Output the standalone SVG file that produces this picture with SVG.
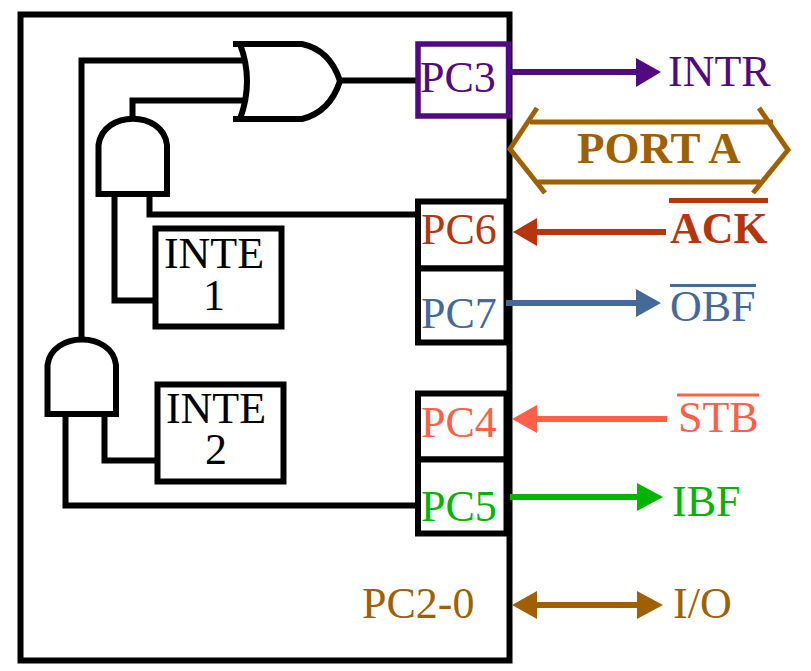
<svg xmlns="http://www.w3.org/2000/svg" width="811" height="671" viewBox="0 0 811 671">
<style>
text{font-family:"Liberation Serif","Times New Roman",serif;font-size:44px}
.b{font-weight:bold}
.k{fill:none;stroke:#000;stroke-width:6}
.g{fill:#fff;stroke:#000;stroke-width:6}
.w{fill:none;stroke:#000;stroke-width:6;stroke-linejoin:miter}
.pur{fill:#520a80}.red{fill:#b5360e}.blu{fill:#466a98}.sal{fill:#ff6047}.grn{fill:#00b400}.brn{fill:#a06000}.blk{fill:#000}
</style>
<rect x="0" y="0" width="811" height="671" fill="#fff"/>
<g id="chip"><rect class="k" x="20.500" y="14.500" width="489" height="646"/></g>
<g id="connectors">
<path class="w" d="M81.500 340V60.500H247"/>
<path class="w" d="M132.500 119V100.500H247"/>
<path class="w" d="M114.500 196V300.500H155"/>
<path class="w" d="M149.500 196V214.500H418"/>
<path class="w" d="M65.500 416V505.500H418"/>
<path class="w" d="M104.500 416V460.500H157"/>
<path class="w" d="M338 80.500H418"/>
</g>
<g id="or-gate"><path fill="#fff" d="M240 44H302Q330 50 340 81Q330 112 302 119H240Q254 81 240 44Z"/><path class="k" d="M233 44H302Q330 50 340 81Q330 112 302 119H233M240 44Q254 81 240 119"/></g>
<g id="and-gate-1"><path class="g" d="M98.500 194V145C103 110 163 110 167 145V194Z"/></g>
<g id="and-gate-2"><path class="g" d="M47.500 414V365C52 331 112 331 116 365V414Z"/></g>
<g id="inte-1"><rect class="g" x="155.500" y="228.500" width="126" height="98"/><text class="blk" x="214" y="268" text-anchor="middle">INTE</text><text class="blk" x="214" y="310" text-anchor="middle">1</text></g>
<g id="inte-2"><rect class="g" x="157.500" y="384.500" width="126" height="97"/><text class="blk" x="216" y="423" text-anchor="middle">INTE</text><text class="blk" x="216" y="464" text-anchor="middle">2</text></g>
<g id="pc3"><rect x="418" y="44" width="90.500" height="72" fill="#fff" stroke="#520a80" stroke-width="5.500"/><text class="pur" x="420" y="92">PC3</text></g>
<g id="pc6"><rect class="g" x="418" y="201.500" width="88.500" height="67"/><text class="red" x="421" y="244">PC6</text></g>
<g id="pc7"><rect class="g" x="418" y="268.500" width="88.500" height="74"/><text class="blu" x="421" y="328">PC7</text></g>
<g id="pc4"><rect class="g" x="418" y="393.500" width="88.500" height="66"/><text class="sal" x="421" y="437">PC4</text></g>
<g id="pc5"><rect class="g" x="418" y="459.500" width="88.500" height="74"/><text class="grn" x="421" y="521">PC5</text></g>
<g id="signal-arrows">
<g id="arrow-intr"><path d="M511 72H637" stroke="#520a80" stroke-width="6"/><path class="pur" d="M636 58L661 72L636 87Z"/></g>
<g id="arrow-ack"><path d="M666 232H535" stroke="#b5360e" stroke-width="6"/><path class="red" d="M537 218L513 232L537 246Z"/></g>
<g id="arrow-obf"><path d="M506 303H637" stroke="#466a98" stroke-width="6"/><path class="blu" d="M636 289L661 303L636 317Z"/></g>
<g id="arrow-stb"><path d="M667 419H535" stroke="#ff6047" stroke-width="6"/><path class="sal" d="M537 405L512 419L537 433Z"/></g>
<g id="arrow-ibf"><path d="M510 497H638" stroke="#00b400" stroke-width="6"/><path class="grn" d="M637 483L663 497L637 511Z"/></g>
<g id="arrow-io"><path d="M535 605H638" stroke="#a06000" stroke-width="6"/><path class="brn" d="M537 591L512 605L537 619Z"/><path class="brn" d="M637 591L663 605L637 619Z"/></g>
</g>
<g id="port-a">
<path d="M537 108L510 149L545 193M530 122H773M538 182H760M759 108L788 150L753 193" fill="none" stroke="#a06000" stroke-width="5"/>
<text class="b brn" x="577" y="163" style="font-size:45px">PORT A</text>
</g>
<g id="label-intr"><text class="pur" x="668" y="86">INTR</text></g>
<g id="label-ack"><path d="M669 200.500H768" stroke="#b5360e" stroke-width="5"/><text class="b red" x="670" y="243">ACK</text></g>
<g id="label-obf"><path d="M670 285.500H756" stroke="#466a98" stroke-width="3"/><text class="blu" x="670" y="321">OBF</text></g>
<g id="label-stb"><path d="M677 395H759" stroke="#ff6047" stroke-width="3"/><text class="sal" x="678" y="432">STB</text></g>
<g id="label-ibf"><text class="grn" x="672" y="516">IBF</text></g>
<g id="label-io"><text class="brn" x="673" y="618">I/O</text></g>
<g id="label-pc20"><text class="brn" x="362" y="618">PC2-0</text></g>
</svg>
